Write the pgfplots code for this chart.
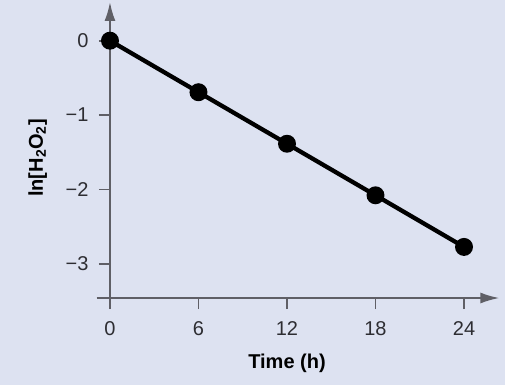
\documentclass[border=0pt]{standalone}
\usepackage{fontspec}
\setmainfont{Liberation Sans}
\usepackage{pgfplots}
\pgfplotsset{compat=1.18}
\usetikzlibrary{arrows.meta}
\definecolor{bg}{RGB}{221,226,241}
\definecolor{axgray}{RGB}{95,95,102}
\definecolor{txtgray}{RGB}{45,45,50}
\begin{document}
\begin{tikzpicture}[x=1bp,y=1bp]
\useasboundingbox[fill=bg] (-96.7,-87) rectangle (408.3,298);
\begin{axis}[at={(0,0)}, anchor=south west, scale only axis,
  width=402.7bp, height=296bp,
  xmin=-0.9, xmax=26.4, ymin=-3.46, ymax=0.52,
  axis x line=bottom, axis y line=middle,
  hide obscured x ticks=false, hide obscured y ticks=false,
  axis line style={axgray, line width=2bp, -{Latex[length=19bp,width=11bp]}},
  tick align=outside, major tick length=11bp,
  tick style={axgray, line width=1.8bp},
  xtick={0,6,12,18,24},
  ytick={-3,-2,-1,0}, yticklabels={−3,−2,−1,0},
  /pgf/number format/assume math mode=true,
  ticklabel style={font=\fontsize{20bp}{24bp}\selectfont, text=txtgray},
  xticklabel style={yshift=-9bp},
  yticklabel style={xshift=-7bp},
  xlabel={\textbf{Time (h)}},
  ylabel={\textbf{ln[H\textsubscript{2}O\textsubscript{2}]}},
  label style={font=\fontsize{20bp}{24bp}\selectfont},
  xlabel style={at={(rel axis cs:0.4726,0)}, anchor=base, yshift=-70bp},
  ylabel style={at={(rel axis cs:-0.1465,0.473)}, rotate=90, anchor=center},
  clip=false,
]
\addplot[black, line width=4.3bp, mark=*, mark size=6.8bp] coordinates {
  (0,0) (6,-0.693) (12,-1.386) (18,-2.079) (24,-2.773)
};
\end{axis}
\end{tikzpicture}
\end{document}
